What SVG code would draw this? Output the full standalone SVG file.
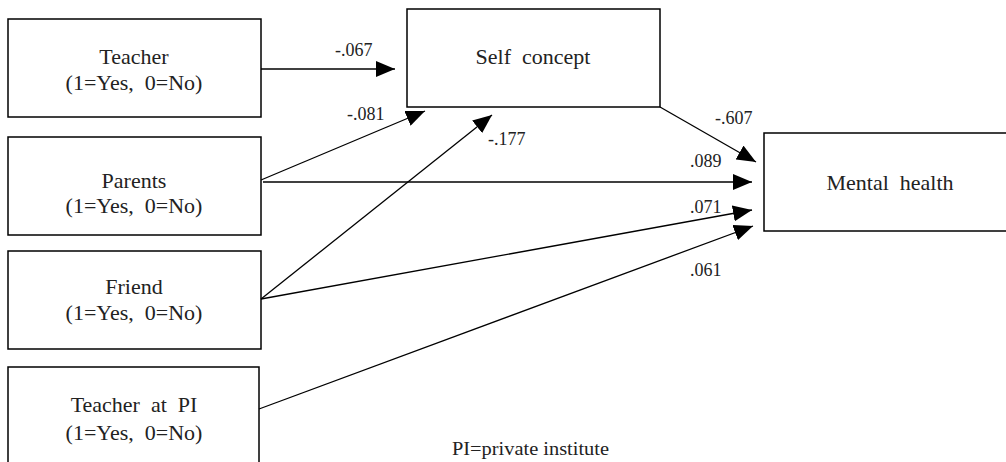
<svg xmlns="http://www.w3.org/2000/svg" width="1006" height="462" viewBox="0 0 1006 462">
<defs>
<style>
.box{fill:#fff;stroke:#000;stroke-width:1.5}
.t{font-family:"Liberation Serif",serif;font-size:22px;fill:#222;text-anchor:middle;white-space:pre}
.lbl{font-family:"Liberation Serif",serif;font-size:18px;fill:#222}
.note{font-family:"Liberation Serif",serif;font-size:19px;fill:#222}
.c{stroke:#000;stroke-width:1.3;fill:none;marker-end:url(#ah)}
</style>
<marker id="ah" markerUnits="userSpaceOnUse" markerWidth="20" markerHeight="16" viewBox="0 0 20 16" refX="19" refY="8" orient="auto">
<path d="M0,0 L19,8 L0,16 Z" fill="#000"/>
</marker>
</defs>
<rect width="1006" height="462" fill="#fff"/>
<g id="teacher">
<rect class="box" x="8" y="19" width="253" height="98"/>
<text class="t" x="134" y="64">Teacher</text>
<text class="t" x="134" y="90" xml:space="preserve">(1=Yes,  0=No)</text>
</g>
<g id="parents">
<rect class="box" x="8" y="137" width="253" height="98"/>
<text class="t" x="134" y="188">Parents</text>
<text class="t" x="134" y="213" xml:space="preserve">(1=Yes,  0=No)</text>
</g>
<g id="friend">
<rect class="box" x="8" y="251" width="253" height="98"/>
<text class="t" x="134" y="294">Friend</text>
<text class="t" x="134" y="320" xml:space="preserve">(1=Yes,  0=No)</text>
</g>
<g id="teacher-pi">
<rect class="box" x="8" y="367" width="251" height="110"/>
<text class="t" x="134" y="412" xml:space="preserve">Teacher  at  PI</text>
<text class="t" x="134" y="440" xml:space="preserve">(1=Yes,  0=No)</text>
</g>
<g id="self-concept">
<rect class="box" x="407" y="9" width="253" height="98"/>
<text class="t" x="533" y="64" xml:space="preserve">Self  concept</text>
</g>
<g id="mental-health">
<rect class="box" x="764" y="133" width="250" height="98"/>
<text class="t" x="890" y="190" xml:space="preserve">Mental  health</text>
</g>
<g id="connectors">
<line class="c" x1="261" y1="69" x2="395" y2="69"/>
<line class="c" x1="261" y1="180" x2="425" y2="111"/>
<line class="c" x1="261" y1="299" x2="492" y2="115"/>
<line class="c" x1="263" y1="182" x2="752" y2="182"/>
<line class="c" x1="660" y1="107" x2="756" y2="162"/>
<line class="c" x1="261" y1="299" x2="752" y2="210"/>
<line class="c" x1="259" y1="409" x2="753" y2="226"/>
<text class="lbl" x="335" y="56">-.067</text>
<text class="lbl" x="347" y="120">-.081</text>
<text class="lbl" x="488" y="145">-.177</text>
<text class="lbl" x="715" y="124">-.607</text>
<text class="lbl" x="690" y="167">.089</text>
<text class="lbl" x="690" y="213">.071</text>
<text class="lbl" x="690" y="276">.061</text>
</g>
<text class="note" x="452" y="455" textLength="157" lengthAdjust="spacingAndGlyphs">PI=private institute</text>
</svg>
